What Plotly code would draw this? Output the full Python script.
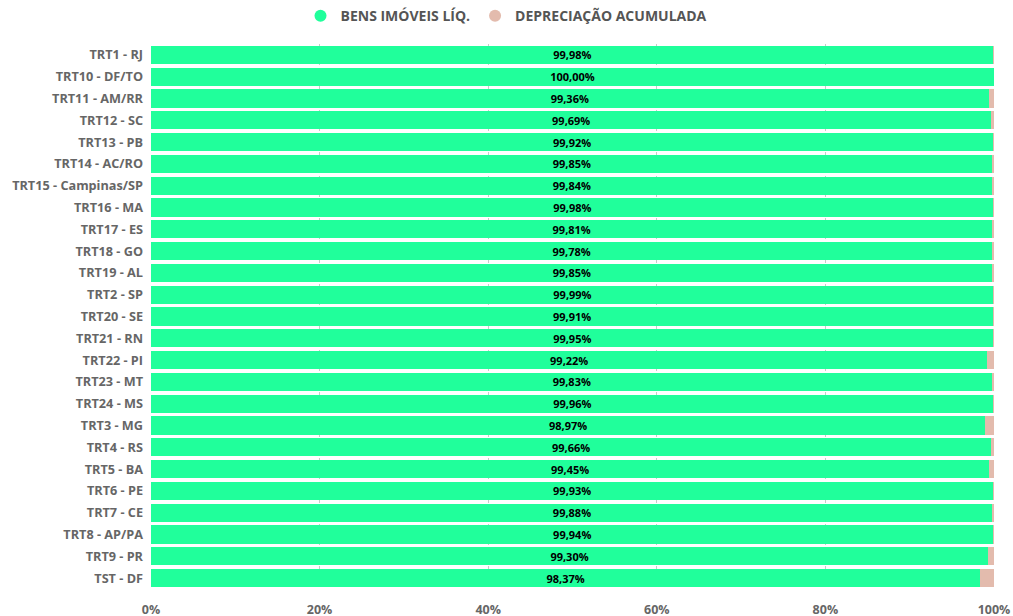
import plotly.graph_objects as go

categories = ["TRT1 - RJ", "TRT10 - DF/TO", "TRT11 - AM/RR", "TRT12 - SC", "TRT13 - PB",
              "TRT14 - AC/RO", "TRT15 - Campinas/SP", "TRT16 - MA", "TRT17 - ES", "TRT18 - GO",
              "TRT19 - AL", "TRT2 - SP", "TRT20 - SE", "TRT21 - RN", "TRT22 - PI",
              "TRT23 - MT", "TRT24 - MS", "TRT3 - MG", "TRT4 - RS", "TRT5 - BA",
              "TRT6 - PE", "TRT7 - CE", "TRT8 - AP/PA", "TRT9 - PR", "TST - DF"]
bens = [99.98, 100.00, 99.36, 99.69, 99.92, 99.85, 99.84, 99.98, 99.81, 99.78,
        99.85, 99.99, 99.91, 99.95, 99.22, 99.83, 99.96, 98.97, 99.66, 99.45,
        99.93, 99.88, 99.94, 99.30, 98.37]
depreciacao = [round(100 - v, 2) for v in bens]
tick_vals = [0, 20, 40, 60, 80, 100]
tick_text = ["0%", "20%", "40%", "60%", "80%", "100%"]

GREEN = "#20FF9B"
PINK = "#E3BBAD"
GRAY = "#666666"
FONT = "Open Sans"

labels = [f"{v:.2f}%".replace(".", ",") for v in bens]

fig = go.Figure()
fig.add_trace(go.Bar(
    y=categories, x=bens, orientation="h", name="BENS IMÓVEIS LÍQ.",
    marker=dict(color=GREEN, line=dict(width=0)),
    text=labels, textposition="inside", insidetextanchor="middle",
    textfont=dict(color="#000000", size=11, family=FONT, weight="bold"),
    showlegend=False, hoverinfo="x+y"))
fig.add_trace(go.Bar(
    y=categories, x=depreciacao, orientation="h", name="DEPRECIAÇÃO ACUMULADA",
    marker=dict(color=PINK, line=dict(width=0)),
    showlegend=False, hoverinfo="x+y"))
# legend entries with circle markers
fig.add_trace(go.Scatter(x=[None], y=[None], mode="markers", name="BENS IMÓVEIS LÍQ.",
                         marker=dict(color=GREEN, size=11, symbol="circle")))
fig.add_trace(go.Scatter(x=[None], y=[None], mode="markers", name="DEPRECIAÇÃO ACUMULADA",
                         marker=dict(color=PINK, size=11, symbol="circle")))

fig.update_layout(
    width=1013, height=616,
    barmode="stack", bargap=0.17,
    plot_bgcolor="white", paper_bgcolor="white",
    margin=dict(l=151, r=19, t=44, b=27, autoexpand=False),
    font=dict(family=FONT, color=GRAY),
    uniformtext=dict(minsize=11, mode="show"),
    legend=dict(orientation="h", x=0.5, xanchor="center", xref="container",
                y=1.051, yanchor="middle", yref="paper", traceorder="normal",
                itemsizing="constant",
                font=dict(size=14, color="#555555", family=FONT, weight="bold"),
                itemwidth=30, tracegroupgap=0),
    xaxis=dict(range=[0, 100], tickvals=tick_vals, ticktext=tick_text,
               showgrid=True, gridcolor="#C8C8C8", griddash="dot", gridwidth=1,
               zeroline=False, showline=False, ticks="", automargin=False,
               tickfont=dict(size=12.5, color=GRAY, family=FONT, weight="bold"),
               ticklabelstandoff=11, fixedrange=True),
    yaxis=dict(autorange="reversed", showgrid=False, zeroline=False, ticks="",
               automargin=False,
               tickfont=dict(size=12.7, color=GRAY, family=FONT, weight="bold"),
               ticklabelstandoff=7, fixedrange=True),
)

# remove the default page margin so the figure fills the window exactly
fig.write_html("out.html",
               config={"displayModeBar": False},
               post_script="document.body.style.margin='0';document.body.style.overflow='hidden';")
